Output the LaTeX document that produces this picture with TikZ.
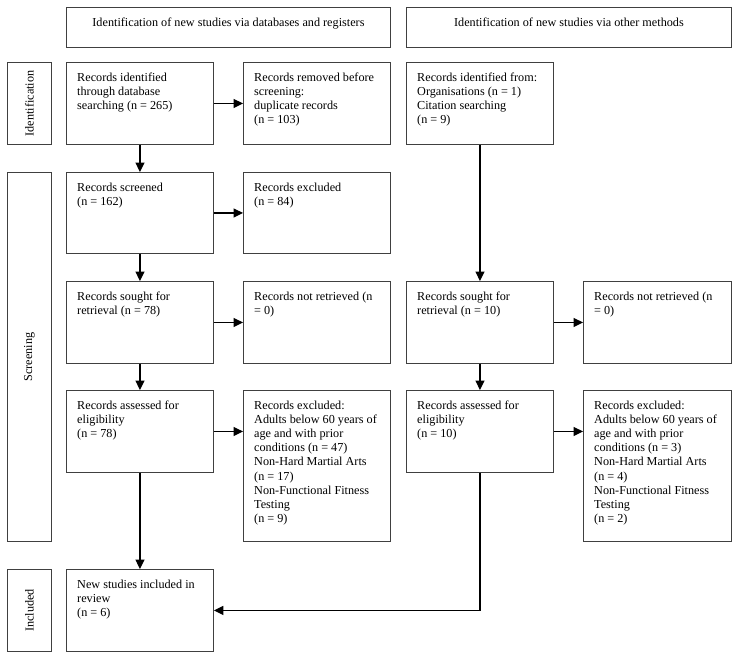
\documentclass[tikz,border=0pt]{standalone}
\usepackage{fontspec}
\setmainfont{Liberation Serif}
\usetikzlibrary{arrows.meta}
\begin{document}
\begin{tikzpicture}[x=1pt,y=1pt,
  box/.style={draw=black!75, line width=0.9pt, anchor=north west, inner sep=0pt},
  txt/.style={anchor=north west, align=left, inner sep=0pt, font=\fontsize{12.2}{14.2}\selectfont},
  hdrtxt/.style={anchor=north, inner sep=0pt, font=\fontsize{12.2}{14.2}\selectfont},
  side/.style={rotate=90, inner sep=0pt, font=\fontsize{12.2}{14.2}\selectfont},
  arr/.style={line width=1.3pt, -{Triangle[length=9.5pt,width=9pt]}},
]
\useasboundingbox (0,0) rectangle (738,-659);

% headers
\node[box, minimum width=324pt, minimum height=40pt] (hdrL) at (66,-7) {};
\node[hdrtxt] (hdrLt) at ([yshift=-10.5pt]hdrL.north) {Identification of new studies via databases and registers};
\node[box, minimum width=325pt, minimum height=40pt] (hdrR) at (406,-7) {};
\node[hdrtxt] (hdrRt) at ([yshift=-10.5pt]hdrR.north) {Identification of new studies via other methods};

% side labels
\node[box, minimum width=44pt, minimum height=82pt] (sideI) at (7,-62) {};
\node[side] at (sideI.center) {Identification};
\node[box, minimum width=44pt, minimum height=369pt] (sideS) at (7,-172) {};
\node[side] at (sideS.center) {Screening};
\node[box, minimum width=44pt, minimum height=82pt] (sideN) at (7,-569) {};
\node[side] at (sideN.center) {Included};

% boxes
\node[box, minimum width=147pt, minimum height=82pt] (id1) at (66,-62) {};
\node[txt] at ([shift={(11,-10.5)}]id1.north west) {Records identified\\through database\\searching (n = 265)};
\node[box, minimum width=147pt, minimum height=82pt] (dup) at (243,-62) {};
\node[txt] at ([shift={(11,-10.5)}]dup.north west) {Records removed before\\screening:\\duplicate records\\(n = 103)};
\node[box, minimum width=147pt, minimum height=82pt] (oth) at (406,-62) {};
\node[txt] at ([shift={(11,-10.5)}]oth.north west) {Records identified from:\\Organisations (n = 1)\\Citation searching\\(n = 9)};

\node[box, minimum width=147pt, minimum height=81pt] (scr) at (66,-172) {};
\node[txt] at ([shift={(11,-10.5)}]scr.north west) {Records screened\\(n = 162)};
\node[box, minimum width=147pt, minimum height=81pt] (exc1) at (243,-172) {};
\node[txt] at ([shift={(11,-10.5)}]exc1.north west) {Records excluded\\(n = 84)};

\node[box, minimum width=147pt, minimum height=82pt] (sgt) at (66,-281) {};
\node[txt] at ([shift={(11,-10.5)}]sgt.north west) {Records sought for\\retrieval (n = 78)};
\node[box, minimum width=147pt, minimum height=82pt] (nr1) at (243,-281) {};
\node[txt] at ([shift={(11,-10.5)}]nr1.north west) {Records not retrieved (n\\= 0)};
\node[box, minimum width=147pt, minimum height=82pt] (sgt2) at (406,-281) {};
\node[txt] at ([shift={(11,-10.5)}]sgt2.north west) {Records sought for\\retrieval (n = 10)};
\node[box, minimum width=148pt, minimum height=82pt] (nr2) at (583,-281) {};
\node[txt] at ([shift={(11,-10.5)}]nr2.north west) {Records not retrieved (n\\= 0)};

\node[box, minimum width=147pt, minimum height=82pt] (elg) at (66,-390) {};
\node[txt] at ([shift={(11,-10.5)}]elg.north west) {Records assessed for\\eligibility\\(n = 78)};
\node[box, minimum width=147pt, minimum height=151pt] (exc2) at (243,-390) {};
\node[txt] at ([shift={(11,-10.5)}]exc2.north west) {Records excluded:\\Adults below 60 years of\\age and with prior\\conditions (n = 47)\\Non-Hard Martial Arts\\(n = 17)\\Non-Functional Fitness\\Testing\\(n = 9)};
\node[box, minimum width=147pt, minimum height=82pt] (elg2) at (406,-390) {};
\node[txt] at ([shift={(11,-10.5)}]elg2.north west) {Records assessed for\\eligibility\\(n = 10)};
\node[box, minimum width=148pt, minimum height=151pt] (exc3) at (583,-390) {};
\node[txt] at ([shift={(11,-10.5)}]exc3.north west) {Records excluded:\\Adults below 60 years of\\age and with prior\\conditions (n = 3)\\Non-Hard Martial Arts\\(n = 4)\\Non-Functional Fitness\\Testing\\(n = 2)};

\node[box, minimum width=147pt, minimum height=82pt] (inc) at (66,-569) {};
\node[txt] at ([shift={(11,-10.5)}]inc.north west) {New studies included in\\review\\(n = 6)};

% arrows
\draw[arr] (id1.south) -- (scr.north);
\draw[arr] (id1.east) -- (dup.west);
\draw[arr] (scr.east) -- (exc1.west);
\draw[arr] (scr.south) -- (sgt.north);
\draw[arr] (sgt.east) -- (nr1.west);
\draw[arr] (sgt.south) -- (elg.north);
\draw[arr] (elg.east) -- (elg.east -| exc2.west);
\draw[arr] (elg.south) -- (inc.north);
\draw[arr] (oth.south) -- (sgt2.north);
\draw[arr] (sgt2.east) -- (nr2.west);
\draw[arr] (sgt2.south) -- (elg2.north);
\draw[arr] (elg2.east) -- (elg2.east -| exc3.west);
\draw[arr] (elg2.south) |- (inc.east);
\end{tikzpicture}
\end{document}
